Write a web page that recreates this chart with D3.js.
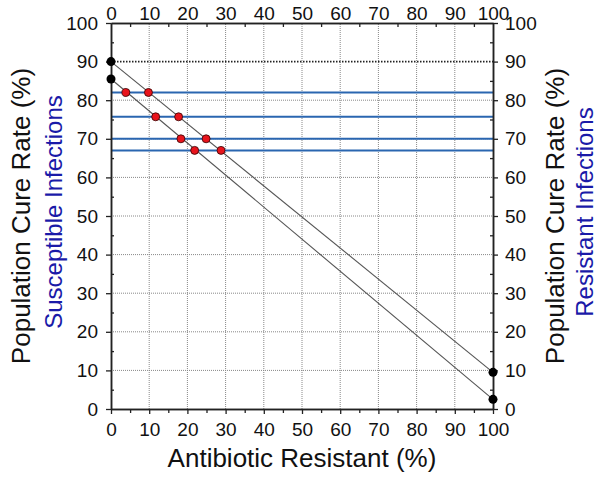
<!DOCTYPE html>
<html>
<head>
<meta charset="utf-8">
<script src="https://cdn.jsdelivr.net/npm/d3@7"></script>
<style>
  html, body { margin: 0; padding: 0; background: #fff; }
  svg { display: block; font-family: "Liberation Sans", Arial, Helvetica, sans-serif; }
</style>
</head>
<body>
<div id="chart"></div>
<script>
// ---- data ----
const xTicks = [0, 10, 20, 30, 40, 50, 60, 70, 80, 90, 100];
const yTicks = [0, 10, 20, 30, 40, 50, 60, 70, 80, 90, 100];
const blueLevels = [82, 75.7, 70, 67];          // horizontal cure-rate levels
const lineAx = [0, 100], lineAy = [90, 9.5];    // upper diagonal
const lineBx = [0, 100], lineBy = [85.5, 2.5];  // lower diagonal
const blackDotX = [0, 0, 100, 100];
const blackDotY = [90, 85.5, 9.5, 2.5];
const redDotX = [3.9, 9.8, 11.7, 17.7, 18.3, 24.9, 21.9, 28.8];
const redDotY = [82, 82, 75.7, 75.7, 70, 70, 67, 67];

const W = 600, H = 483;
const svg = d3.select("#chart").append("svg").attr("width", W).attr("height", H);

const x = d3.scaleLinear().domain([0, 100]).range([111, 493]);
const y = d3.scaleLinear().domain([0, 100]).range([409, 23]);

// grid
const grid = svg.append("g");
grid.selectAll("line.gx").data(xTicks.slice(1, -1)).join("line")
  .attr("x1", d => x(d)).attr("x2", d => x(d)).attr("y1", y(0)).attr("y2", y(100))
  .attr("stroke", "#888").attr("stroke-width", 1).attr("stroke-dasharray", "1,1");
grid.selectAll("line.gy").data(yTicks.slice(1, -1)).join("line")
  .attr("x1", x(0)).attr("x2", x(100)).attr("y1", d => y(d)).attr("y2", d => y(d))
  .attr("stroke", d => d === 90 ? "#222" : "#888")
  .attr("stroke-width", d => d === 90 ? 1.6 : 1)
  .attr("stroke-dasharray", d => d === 90 ? "1.5,1.5" : "1,1");

// blue lines
svg.append("g").selectAll("line").data(blueLevels).join("line")
  .attr("x1", x(0)).attr("x2", x(100)).attr("y1", d => y(d)).attr("y2", d => y(d))
  .attr("stroke", "#2a66b0").attr("stroke-width", 2);

// diagonals
const line = d3.line().x(d => x(d[0])).y(d => y(d[1]));
[[lineAx, lineAy], [lineBx, lineBy]].forEach(([xs, ys]) => {
  svg.append("path").datum(xs.map((v, i) => [v, ys[i]]))
    .attr("d", line).attr("fill", "none").attr("stroke", "#555").attr("stroke-width", 1.1);
});

// axes
const minor = d3.range(5, 100, 10);
const tickFont = 19;
function styleAxis(g) {
  g.select(".domain").attr("stroke", "#222").attr("stroke-width", 1.5);
  g.selectAll(".tick line").attr("stroke", "#222").attr("stroke-width", 1.3);
  g.selectAll(".tick text").attr("font-size", tickFont).attr("fill", "#111")
    .attr("font-family", '"Liberation Sans", Arial, sans-serif');
}
svg.append("g").attr("transform", `translate(0,${y(0)})`)
  .call(d3.axisBottom(x).tickValues(xTicks).tickSize(5).tickPadding(9).tickSizeOuter(0)).call(styleAxis);
svg.append("g").attr("transform", `translate(0,${y(0)})`)
  .call(d3.axisBottom(x).tickValues(minor).tickSize(4).tickFormat("").tickSizeOuter(0)).call(styleAxis);
svg.append("g").attr("transform", `translate(0,${y(100)})`)
  .call(d3.axisTop(x).tickValues(xTicks).tickSize(0).tickPadding(3).tickSizeOuter(0)).call(styleAxis);
svg.append("g").attr("transform", `translate(0,${y(100)})`)
  .call(d3.axisBottom(x).tickValues(minor).tickSize(4).tickFormat("").tickSizeOuter(0)).call(styleAxis);
svg.append("g").attr("transform", `translate(${x(0)},0)`)
  .call(d3.axisLeft(y).tickValues(yTicks).tickSize(5).tickPadding(8).tickSizeOuter(0)).call(styleAxis);
svg.append("g").attr("transform", `translate(${x(0)},0)`)
  .call(d3.axisRight(y).tickValues(minor).tickSize(3).tickFormat("").tickSizeOuter(0)).call(styleAxis);
svg.append("g").attr("transform", `translate(${x(100)},0)`)
  .call(d3.axisRight(y).tickValues(yTicks).tickSize(5).tickPadding(7).tickSizeOuter(0)).call(styleAxis);
svg.append("g").attr("transform", `translate(${x(100)},0)`)
  .call(d3.axisLeft(y).tickValues(minor).tickSize(3).tickFormat("").tickSizeOuter(0)).call(styleAxis);

// dots
svg.append("g").selectAll("circle").data(blackDotX.map((v, i) => [v, blackDotY[i]])).join("circle")
  .attr("cx", d => x(d[0])).attr("cy", d => y(d[1])).attr("r", 4.5).attr("fill", "#000");
svg.append("g").selectAll("circle").data(redDotX.map((v, i) => [v, redDotY[i]])).join("circle")
  .attr("cx", d => x(d[0])).attr("cy", d => y(d[1])).attr("r", 4)
  .attr("fill", "#e8141c").attr("stroke", "#300").attr("stroke-width", 0.8);

// titles
svg.append("text").attr("x", (x(0) + x(100)) / 2).attr("y", 467).attr("text-anchor", "middle")
  .attr("font-size", 26).attr("fill", "#111").text("Antibiotic Resistant (%)");
svg.append("text").attr("transform", `translate(30,216) rotate(-90)`).attr("text-anchor", "middle")
  .attr("font-size", 26).attr("fill", "#111").text("Population Cure Rate (%)");
svg.append("text").attr("transform", `translate(62,212) rotate(-90)`).attr("text-anchor", "middle")
  .attr("font-size", 24).attr("fill", "#1a1aa8").text("Susceptible Infections");
svg.append("text").attr("transform", `translate(564,216) rotate(-90)`).attr("text-anchor", "middle")
  .attr("font-size", 26).attr("fill", "#111").text("Population Cure Rate (%)");
svg.append("text").attr("transform", `translate(593,212) rotate(-90)`).attr("text-anchor", "middle")
  .attr("font-size", 24).attr("fill", "#1a1aa8").text("Resistant Infections");
</script>
</body>
</html>
